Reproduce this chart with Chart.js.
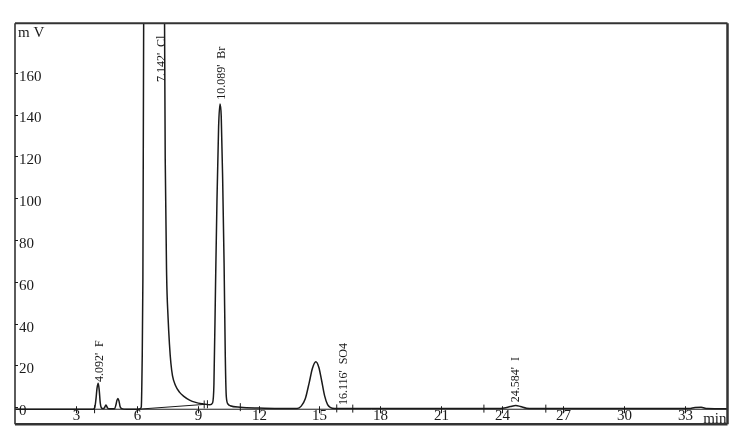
<!DOCTYPE html>
<html>
<head>
<meta charset="utf-8">
<script src="https://cdn.jsdelivr.net/npm/chart.js@4"></script>
<style>
  html, body { margin: 0; padding: 0; background: #fff; }
  canvas { display: block; }
</style>
</head>
<body>
<canvas id="myChart" width="744" height="441"></canvas>
<script>
// chromatogram trace (min, mV)
var retTime = [0, 3.85, 3.93, 3.99, 4.04, 4.1, 4.15, 4.2, 4.25, 4.32, 4.4, 4.48, 4.56, 4.65, 4.9, 4.97, 5.02, 5.07, 5.12, 5.18, 5.26, 5.5,
  6.1, 6.16, 6.22, 6.26, 6.3, 6.34, 6.8, 7.36, 7.4, 7.47, 7.54, 7.61, 7.68, 7.76, 7.9, 8.1, 8.3, 8.6, 8.9, 9.24, 9.6,
  9.73, 9.8, 9.88, 9.95, 10.03, 10.1, 10.16, 10.23, 10.3, 10.36, 10.41, 10.5, 10.6, 11.1, 12, 13, 13.9,
  14.1, 14.3, 14.5, 14.65, 14.82, 14.97, 15.1, 15.25, 15.4, 15.55, 15.75, 16.5, 20, 23.8,
  24.1, 24.4, 24.67, 24.9, 25.2, 25.5, 30, 33.2, 33.5, 33.8, 34.1, 35.1];
var signal = [0, 0, 0.8, 5, 10, 12.4, 9, 3, 0.8, 0.3, 0.6, 2, 0.6, 0.2, 0.2, 2, 4.2, 5.2, 4, 1.2, 0.3, 0,
  0, 0.3, 1, 20, 62, 190, 900, 200, 120, 64, 44, 31, 22, 16, 11.5, 8.2, 6.3, 4.4, 3.3, 2.6, 2.1,
  3, 12, 60, 100, 135, 146, 140, 110, 70, 25, 6, 2.4, 1.7, 1.0, 0.6, 0.4, 0.4,
  1.5, 5, 13, 19.5, 22.7, 20, 14, 6.5, 2.2, 0.8, 0.4, 0.3, 0.3, 0.3,
  0.6, 1.3, 1.8, 1.3, 0.5, 0.3, 0.3, 0.3, 0.8, 0.9, 0.3, 0.2];

// drawn integration baseline under the Cl peak
var baseTime = [6.05, 9.45];
var baseValue = [0, 2.4];

// integration marks on the trace
var markTime = [3.92, 9.32, 9.48, 11.1, 15.85, 16.64, 23.1, 26.15];
var markValue = [0, 2.3, 2.4, 1.0, 0.4, 0.3, 0.3, 0.3];

// peak labels
var peakNames = ["4.092'  F", "7.142'  Cl", "10.089'  Br", "16.116'  SO4", "24.584'  I"];
var peakTimes = [4.092, 7.142, 10.089, 16.116, 24.584];
var peakLabelAt = [13, 156.5, 148, 2, 3.4];

// axis ticks
var xTicks = [3, 6, 9, 12, 15, 18, 21, 24, 27, 30, 33];
var yTicks = [0, 20, 40, 60, 80, 100, 120, 140, 160];

var trace = [];
for (var i = 0; i < retTime.length; i++) {
  trace.push({x: retTime[i], y: signal[i]});
}
var baseLine = [];
for (var i = 0; i < baseTime.length; i++) {
  baseLine.push({x: baseTime[i], y: baseValue[i]});
}
var marks = [];
for (var i = 0; i < markTime.length; i++) {
  marks.push({x: markTime[i], y: markValue[i]});
}

var FONT = "'Liberation Serif', 'Times New Roman', serif";
var INK = '#1a1a1a';

var chromPlugin = {
  id: 'chrom',
  afterDraw: function(chart) {
    var ctx = chart.ctx;
    var a = chart.chartArea;
    var xs = chart.scales.x;
    var ys = chart.scales.y;
    var y0 = ys.getPixelForValue(0);
    ctx.save();
    ctx.strokeStyle = INK;
    ctx.fillStyle = INK;

    // x axis line along zero
    ctx.lineWidth = 1;
    ctx.beginPath();
    ctx.moveTo(a.left, y0);
    ctx.lineTo(a.right, y0);
    ctx.stroke();

    // frame
    ctx.strokeStyle = '#333';
    ctx.lineWidth = 2;
    ctx.beginPath();
    ctx.moveTo(a.left, a.top);
    ctx.lineTo(a.right, a.top);
    ctx.stroke();
    ctx.lineWidth = 1.6;
    ctx.beginPath();
    ctx.moveTo(a.left, a.top);
    ctx.lineTo(a.left, a.bottom);
    ctx.stroke();
    ctx.lineWidth = 2.5;
    ctx.beginPath();
    ctx.moveTo(a.left, a.bottom);
    ctx.lineTo(a.right, a.bottom);
    ctx.moveTo(a.right, a.top);
    ctx.lineTo(a.right, a.bottom);
    ctx.stroke();

    // x ticks and labels
    ctx.strokeStyle = INK;
    ctx.lineWidth = 1;
    ctx.font = '15px ' + FONT;
    ctx.textAlign = 'center';
    ctx.textBaseline = 'middle';
    xTicks.forEach(function(t) {
      var px = Math.round(xs.getPixelForValue(t)) + 0.5;
      ctx.beginPath();
      ctx.moveTo(px, y0 - 3);
      ctx.lineTo(px, y0 + 4);
      ctx.stroke();
      ctx.fillText(String(t), px, y0 + 6.5);
    });

    // y ticks and labels
    ctx.textAlign = 'left';
    yTicks.forEach(function(v) {
      var py = ys.getPixelForValue(v);
      ctx.beginPath();
      ctx.moveTo(a.left, Math.round(py - 2) + 0.5);
      ctx.lineTo(a.left + 3, Math.round(py - 2) + 0.5);
      ctx.stroke();
      ctx.fillText(String(v), a.left + 4, py + 2);
    });
    ctx.fillText('m V', a.left + 3, a.top + 10);
    ctx.textAlign = 'right';
    ctx.textBaseline = 'alphabetic';
    ctx.fillText('min', a.right - 1, a.bottom - 1);

    // peak labels, vertical
    ctx.font = '12px ' + FONT;
    ctx.textAlign = 'left';
    ctx.textBaseline = 'middle';
    for (var k = 0; k < peakNames.length; k++) {
      ctx.save();
      ctx.translate(xs.getPixelForValue(peakTimes[k]) + 2, ys.getPixelForValue(peakLabelAt[k]));
      ctx.rotate(-Math.PI / 2);
      ctx.fillText(peakNames[k], 0, 0);
      ctx.restore();
    }
    ctx.restore();
  }
};

var ctx = document.getElementById('myChart');
var myChart = new Chart(ctx, {
  type: 'line',
  data: {
    datasets: [{
      data: trace,
      borderColor: INK,
      borderWidth: 1.5,
      pointRadius: 0,
      cubicInterpolationMode: 'monotone',
      fill: false
    }, {
      data: baseLine,
      borderColor: INK,
      borderWidth: 1,
      pointRadius: 0,
      fill: false
    }, {
      type: 'scatter',
      data: marks,
      showLine: false,
      pointStyle: 'line',
      rotation: 90,
      pointRadius: 4,
      borderColor: INK,
      borderWidth: 1
    }]
  },
  options: {
    responsive: false,
    animation: false,
    layout: { padding: { left: 15, right: 16.5, top: 23.3, bottom: 16.7 } },
    plugins: { legend: { display: false }, tooltip: { enabled: false } },
    scales: {
      x: { type: 'linear', min: 0, max: 35.1, display: false },
      y: { min: -7.2, max: 184.6, display: false }
    }
  },
  plugins: [chromPlugin]
});
</script>
</body>
</html>
